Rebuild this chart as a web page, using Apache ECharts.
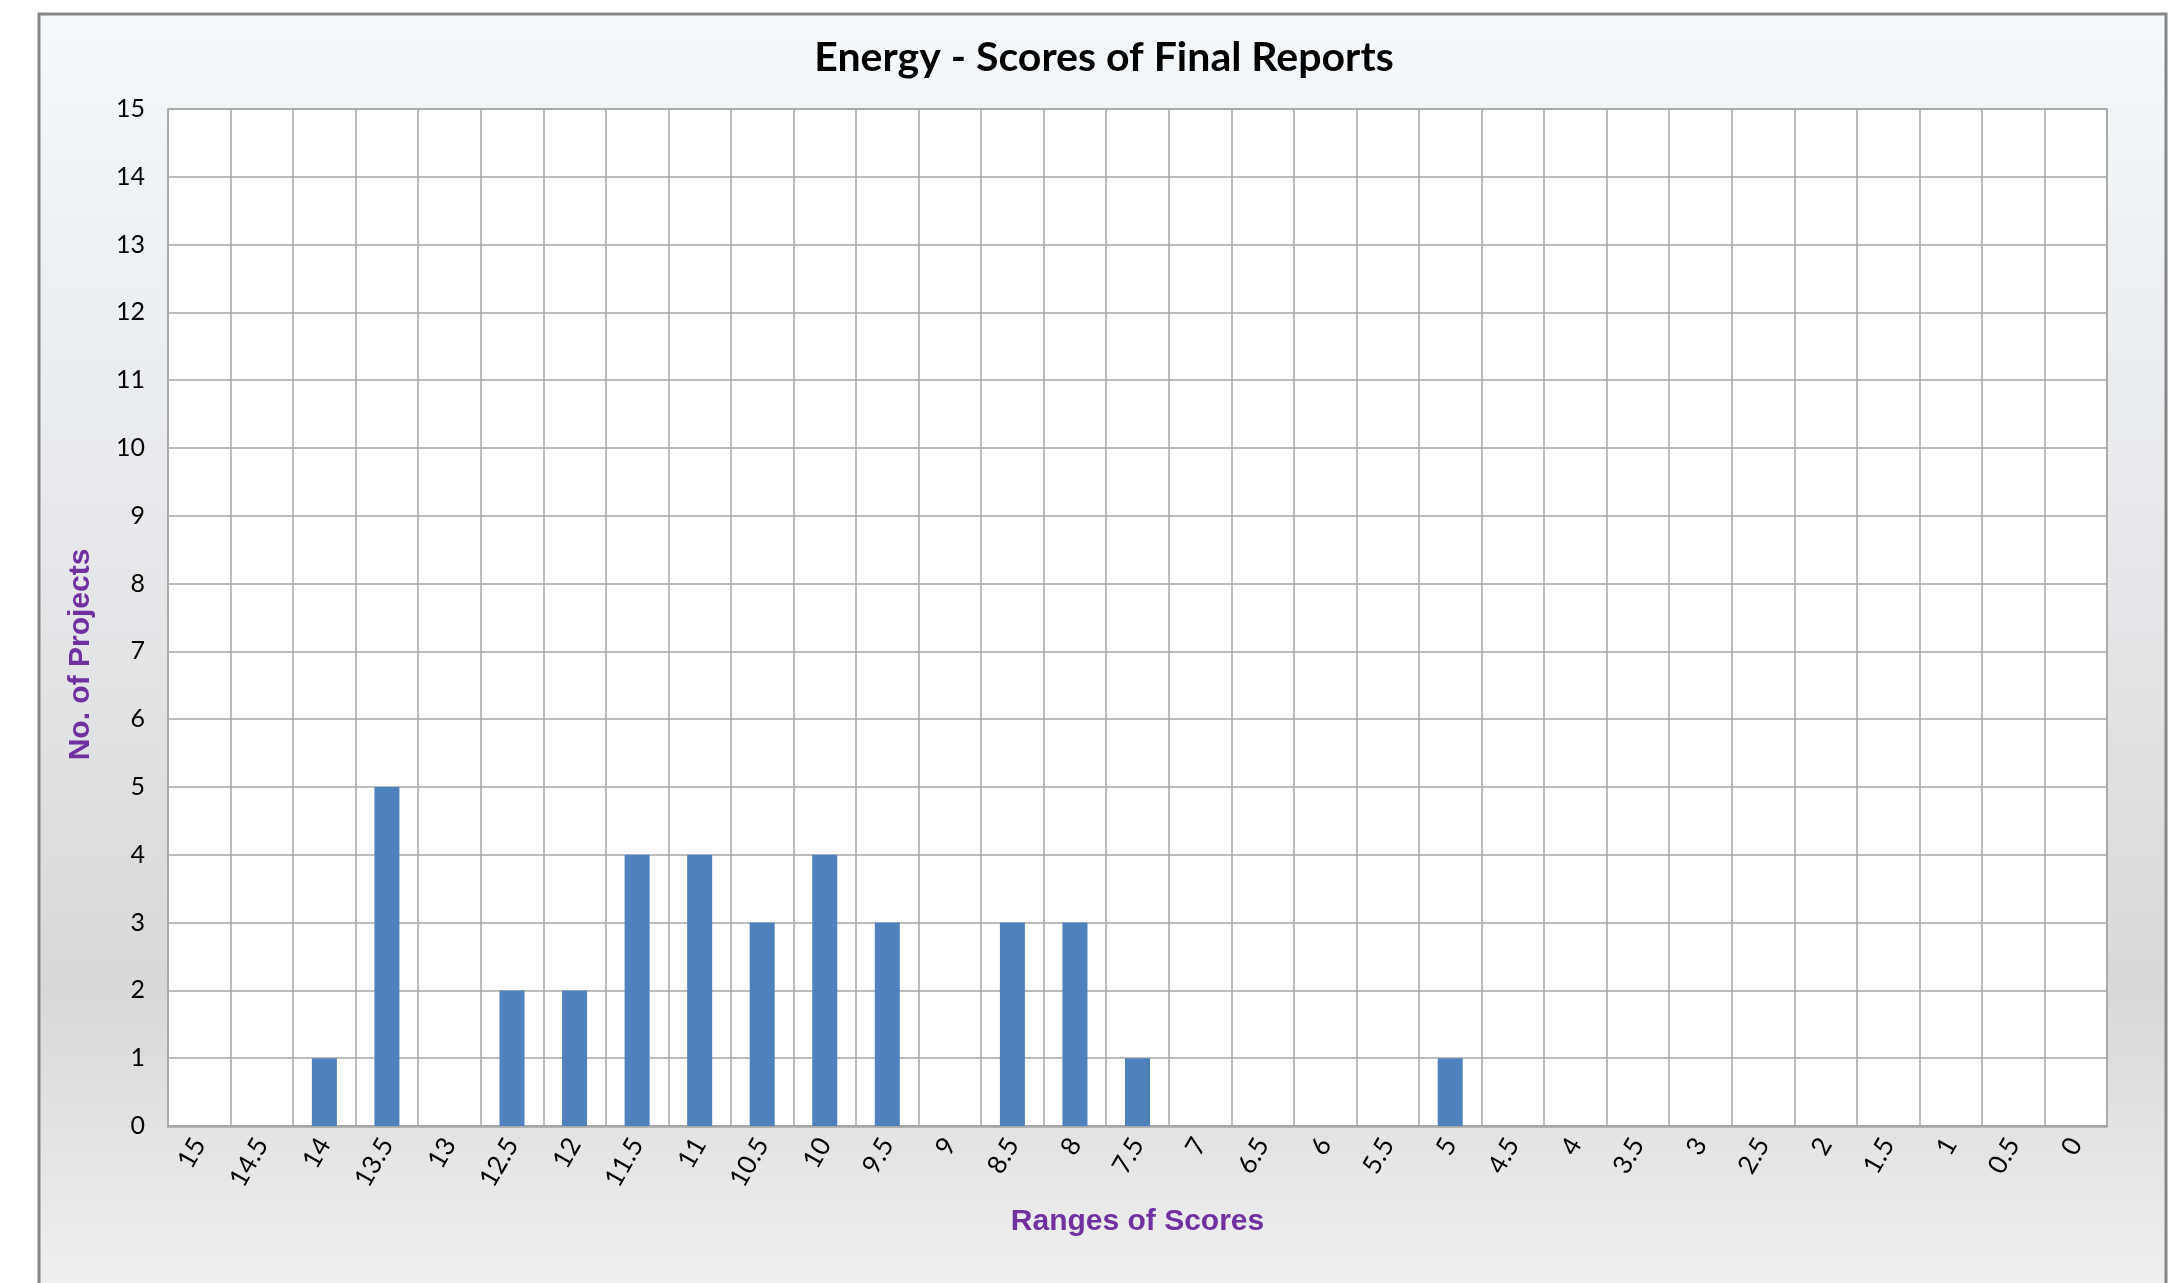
<!DOCTYPE html>
<html>
<head>
<meta charset="utf-8">
<title>Energy - Scores of Final Reports</title>
<script src="https://cdn.jsdelivr.net/npm/echarts@6/dist/echarts.min.js"></script>
<style>
  html, body { margin: 0; padding: 0; background: #fff; }
  #chart { width: 2183px; height: 1283px; }
</style>
</head>
<body>
<div id="chart"></div>
<script>
// score ranges, high to low
const scoreRanges = ['15', '14.5', '14', '13.5', '13', '12.5', '12', '11.5', '11', '10.5',
    '10', '9.5', '9', '8.5', '8', '7.5', '7', '6.5', '6', '5.5',
    '5', '4.5', '4', '3.5', '3', '2.5', '2', '1.5', '1', '0.5', '0']
// number of projects in each range
const projectCounts = [0, 0, 1, 5, 0, 2, 2, 4, 4, 3,
    4, 3, 0, 3, 3, 1, 0, 0, 0, 0,
    1, 0, 0, 0, 0, 0, 0, 0, 0, 0, 0]
const yTicks = { min: 0, max: 15, step: 1 }

const chart = echarts.init(document.getElementById('chart'))
const gridColor = '#A6A6A6'
const nameStyle = {
    fontFamily: 'Liberation Sans',
    fontWeight: 'bold',
    fontSize: 30,
    color: '#7030A0'
}
const option = {
    animation: false,
    graphic: [{
        // chart area background with a soft gradient, like the spreadsheet frame
        type: 'rect',
        z: -100,
        shape: { x: 39, y: 14, width: 2127, height: 1300 },
        style: {
            fill: new echarts.graphic.LinearGradient(0, 0, 0, 1, [
                { offset: 0, color: '#F6F9FC' },
                { offset: 0.18, color: '#EEF1F4' },
                { offset: 0.5, color: '#E3E4E6' },
                { offset: 0.75, color: '#D8D8D8' },
                { offset: 1, color: '#F2F2F2' }
            ]),
            stroke: '#868686',
            lineWidth: 3
        }
    }],
    title: {
        text: 'Energy - Scores of Final Reports',
        left: 1104,
        top: 58,
        padding: 0,
        textAlign: 'center',
        textVerticalAlign: 'middle',
        textStyle: {
            fontFamily: 'Lato',
            fontWeight: 'bold',
            fontSize: 41,
            color: '#000'
        }
    },
    grid: {
        left: 168,
        right: 76,
        top: 109,
        bottom: 157,
        show: true,
        backgroundColor: '#fff',
        borderColor: gridColor,
        borderWidth: 1.5
    },
    xAxis: {
        type: 'category',
        data: scoreRanges,
        name: 'Ranges of Scores',
        nameLocation: 'middle',
        nameGap: 81,
        nameTextStyle: nameStyle,
        axisLine: { lineStyle: { color: gridColor, width: 2.5 } },
        axisTick: { length: 9, lineStyle: { color: gridColor, width: 1.5 } },
        splitLine: { show: true, interval: 0, lineStyle: { color: gridColor, width: 1.5 } },
        axisLabel: {
            interval: 0,
            rotate: 60,
            margin: 14,
            fontFamily: 'Lato',
            fontSize: 26,
            color: '#000'
        }
    },
    yAxis: {
        type: 'value',
        min: yTicks.min,
        max: yTicks.max,
        interval: yTicks.step,
        name: 'No. of Projects',
        nameLocation: 'middle',
        nameGap: 72,
        // right padding pushes the rotated name a little below the middle
        nameTextStyle: Object.assign({ padding: [0, 74, 0, 0] }, nameStyle),
        axisLine: { show: false },
        axisTick: { show: false },
        splitLine: { lineStyle: { color: gridColor, width: 1.5 } },
        axisLabel: {
            margin: 23,
            fontFamily: 'Lato',
            fontSize: 25,
            color: '#000'
        }
    },
    series: [
        {
            name: 'No. of Projects',
            type: 'bar',
            barWidth: '40%',
            itemStyle: { color: '#4F81BD' },
            data: projectCounts
        }
    ]
}
chart.setOption(option)
</script>
</body>
</html>
